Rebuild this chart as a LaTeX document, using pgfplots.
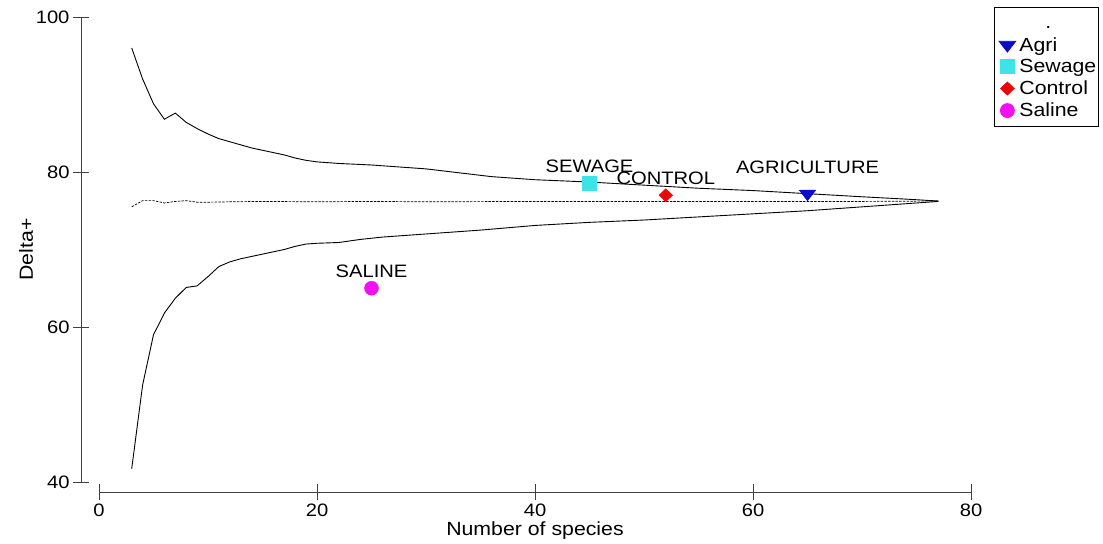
\documentclass[border=0pt]{standalone}
\usepackage{pgfplots}
\pgfplotsset{compat=1.18}
\usepackage{pgfplotstable}
\usepackage{fontspec}
\setmainfont{Liberation Sans}[FakeStretch=1.12]

\definecolor{agri}{RGB}{10,10,205}
\definecolor{sewage}{RGB}{60,228,232}
\definecolor{control}{RGB}{232,8,8}
\definecolor{saline}{RGB}{240,16,240}

% legend sample: a single mark with some room on either side
\pgfplotsset{
  site legend/.style={
    legend image code/.code={%
      \path[draw=none, fill=none] (0pt,0pt) rectangle (22pt,0.1pt);
      \draw[mark repeat=2, mark phase=2, ##1, only marks]
        plot coordinates {(0pt,0pt) (11pt,0pt) (22pt,0pt)};}},
}

% 95% probability funnel for Delta+ (upper and lower limits, mean)
\pgfplotstableread{
x   y
3   96.0
4   92.0
5   88.8
6   86.8
7   87.6
8   86.4
9   85.6
10  84.9
11  84.3
12  83.9
13  83.5
14  83.1
15  82.8
16  82.5
17  82.2
18  81.8
19  81.5
20  81.3
22  81.1
25  80.9
28  80.6
30  80.4
33  79.9
36  79.4
40  79.0
45  78.7
50  78.3
55  77.9
60  77.6
65  77.2
70  76.8
74  76.5
77  76.25
}\upperlimit

\pgfplotstableread{
x   y
3   41.7
4   52.5
5   59.0
6   61.8
7   63.7
8   65.1
9   65.3
10  66.5
11  67.8
12  68.4
13  68.8
14  69.1
15  69.4
16  69.7
17  70.0
18  70.4
19  70.7
20  70.8
22  70.9
24  71.3
26  71.6
28  71.8
30  72.0
35  72.5
40  73.1
45  73.5
50  73.8
55  74.2
60  74.6
65  75.0
70  75.5
77  76.2
}\lowerlimit

\pgfplotstableread{
x   y
3   75.5
4   76.3
5   76.3
6   76.0
7   76.2
8   76.3
9   76.1
10  76.1
12  76.15
15  76.2
20  76.15
25  76.2
30  76.15
40  76.2
50  76.2
60  76.2
70  76.2
77  76.25
}\meanline

\begin{document}
\begin{tikzpicture}[font=\fontsize{18}{21}\selectfont]
\begin{axis}[
  scale only axis,
  width=872pt, height=465pt,
  xmin=0, xmax=80, ymin=40, ymax=100,
  clip=false,
  axis lines=left,
  axis line style={-, draw=black!75, line width=0.9pt},
  axis x line shift=10pt,
  axis y line shift=18pt,
  xtick={0,20,40,60,80},
  ytick={40,60,80,100},
  tick align=center,
  major tick length=16pt,
  tick style={draw=black!75, line width=0.9pt},
  /pgf/number format/assume math mode=true,
  tick label style={font=\fontsize{18}{21}\selectfont},
  xlabel={Number of species},
  ylabel={Delta+},
  label style={font=\fontsize{19}{22}\selectfont},
  xlabel style={at={(axis description cs:0.5,-0.105)}, anchor=center},
  ylabel style={at={(axis description cs:-0.0837,0.5)}, anchor=center, rotate=0},
  legend cell align=left,
  legend style={
    at={(axis description cs:1.147,1.0215)}, anchor=north east,
    draw=black, line width=0.8pt,
    font=\fontsize{19}{22}\selectfont,
    nodes={inner sep=1pt},
    row sep=4.8pt, inner xsep=1.5pt, inner ysep=7.5pt,
  },
  nodes near coords style={font=\fontsize{18}{21}\selectfont, anchor=south, yshift=7pt, text=black},
]
% funnel lines
\addlegendimage{empty legend}
\addlegendentry{\hspace*{26pt}.\vphantom{Ag}}
\addplot[black, line width=0.9pt, forget plot] table {\upperlimit};
\addplot[black, line width=0.9pt, forget plot] table {\lowerlimit};
\addplot[black, line width=0.7pt, dash pattern=on 2.5pt off 1.2pt, forget plot] table {\meanline};

% observed sites
\addplot[only marks, mark=triangle*, mark size=8pt, color=agri,
  mark options={rotate=180, xscale=1.2, yscale=0.9}, site legend,
  nodes near coords={AGRICULTURE}, nodes near coords style={yshift=9pt}]
  coordinates {(65,77.2)};
\addlegendentry{Agri}
\addplot[only marks, mark=square*, mark size=7pt, color=sewage, site legend,
  nodes near coords={SEWAGE}]
  coordinates {(45,78.6)};
\addlegendentry{Sewage}
\addplot[only marks, mark=diamond*, mark size=6.5pt, color=control,
  mark options={xscale=1.4}, site legend,
  nodes near coords={CONTROL}]
  coordinates {(52,77.0)};
\addlegendentry{Control}
\addplot[only marks, mark=*, mark size=7pt, color=saline, site legend,
  nodes near coords={SALINE}]
  coordinates {(25,65.0)};
\addlegendentry{Saline}

% page extent
\path (axis cs:-9.083,32.0) rectangle (axis cs:92.11,102.19);
\end{axis}
\end{tikzpicture}
\end{document}
